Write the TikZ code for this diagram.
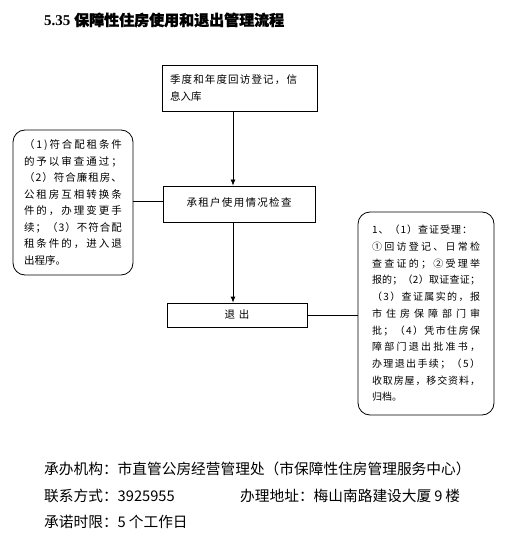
\documentclass[tikz,border=0pt]{standalone}
\usepackage{fontspec}
\usetikzlibrary{arrows.meta}
\setmainfont{Liberation Serif}
\newfontfamily\cjk{Noto Sans CJK SC}
\newfontfamily\cjktitle{Noto Sans CJK SC}[FakeBold=1.6]
% justify one line to a given width (glue between every character)
\newcommand\jst[2]{\makebox[#1][s]{\jstloop#2\relax}}
\def\jstloop#1{#1\futurelet\jstnext\jstcheck}
\def\jstcheck{\ifx\jstnext\relax\expandafter\jstend\else\hfil\expandafter\jstloop\fi}
\def\jstend\relax{}
\begin{document}
\begin{tikzpicture}[x=1pt,y=-1pt,
  boxtxt/.style={font={\cjk\fontsize{10.5}{16.5}\selectfont}},
  box/.style={draw, line width=0.8pt, inner sep=0pt, boxtxt},
  rbox/.style={box, rounded corners=12pt},
  foot/.style={anchor=west, inner sep=0pt, font={\cjk\fontsize{14.7}{16}\selectfont}},
  arr/.style={-{Latex[length=6pt,width=5pt]}, line width=0.8pt},
  conn/.style={line width=0.8pt}]
\useasboundingbox (0,0) rectangle (506,537);
\fill[white] (0,0) rectangle (506,537);

\node[anchor=west, inner sep=0pt] (title) at (44,20)
  {\fontsize{15}{16}\selectfont\bfseries 5.35 {\cjktitle 保障性住房使用和退出管理流程}};

\node[box, minimum width=155pt, minimum height=46pt, text width=139pt, align=left] (q) at (239.5,88)
  {\jst{127pt}{季度和年度回访登记，信}\\息入库};

\node[box, minimum width=152pt, minimum height=36pt] (m) at (239,204)
  {\raisebox{3pt}{\jst{105pt}{承租户使用情况检查}}};

\node[box, minimum width=140pt, minimum height=24pt] (o) at (237,315)
  {退\hspace{4pt}出};

\node[rbox, minimum width=120pt, minimum height=145pt, text width=98pt, align=left] (l) at (73,202.5)
  {\jst{98pt}{（1)符合配租条件}\\
   \jst{98pt}{的予以审查通过；}\\
   \jst{98pt}{（2）符合廉租房、}\\
   \jst{98pt}{公租房互相转换条}\\
   \jst{98pt}{件的，办理变更手}\\
   \jst{98pt}{续；（3）不符合配}\\
   \jst{98pt}{租条件的，进入退}\\
   出程序。};

\node[rbox, minimum width=136pt, minimum height=203pt, text width=108pt, align=left,
      font={\cjk\fontsize{10}{16.7}\selectfont}] (r) at (426,313.5)
  {\jst{100pt}{1、（1）查证受理：}\\
   \jst{108pt}{①回访登记、日常检}\\
   \jst{108pt}{查查证的；②受理举}\\
   \jst{108pt}{报的；（2）取证查证；}\\
   \jst{108pt}{（3）查证属实的，报}\\
   \jst{108pt}{市住房保障部门审}\\
   \jst{108pt}{批；（4）凭市住房保}\\
   \jst{108pt}{障部门退出批准书，}\\
   \jst{108pt}{办理退出手续；（5）}\\
   \jst{108pt}{收取房屋，移交资料，}\\
   归档。};

\coordinate (ax) at (233,111);
\draw[arr] (q.south -| ax) -- (m.north -| ax);
\draw[arr] (m.south -| ax) -- (o.north -| ax);
\draw[conn] ([yshift=3pt]m.west) -- ([yshift=3pt]m.west -| l.east);
\draw[conn] (o.east) -- (o.east -| r.west);

\node[foot] (f1) at (44,469) {承办机构：市直管公房经营管理处（市保障性住房管理服务中心）};
\node[foot] (f2) at (44,496) {联系方式：3925955};
\node[foot] (f3) at (240,496) {办理地址：梅山南路建设大厦\hspace{3pt}9\hspace{3pt}楼};
\node[foot] (f4) at (44,522) {承诺时限：5\hspace{3pt}个工作日};
\end{tikzpicture}
\end{document}
